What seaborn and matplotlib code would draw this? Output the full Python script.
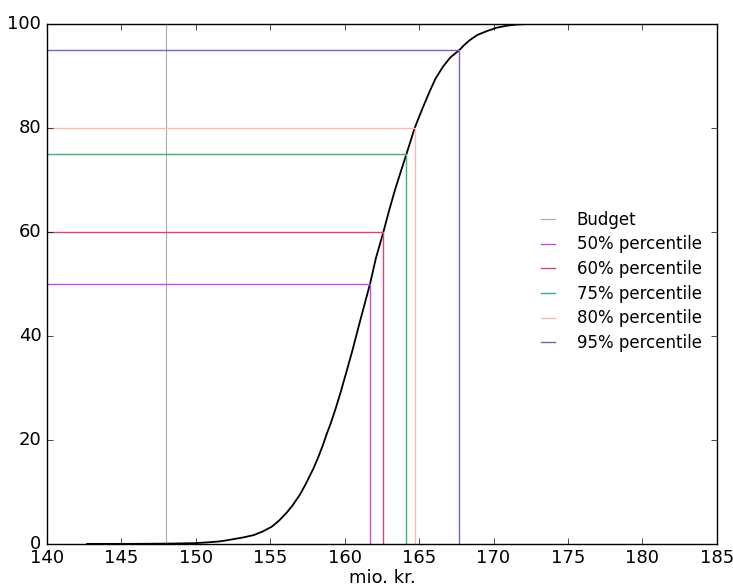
import matplotlib
matplotlib.use("Agg")
import matplotlib.pyplot as plt
import seaborn as sns

# cumulative curve (mio. kr. vs %)
cdf_x = [142.7, 146.0, 148.0, 150.0, 150.8, 151.5, 152.0, 152.5, 153.2, 153.9,
         154.5, 155.1, 155.6, 156.1, 156.5, 157.0, 157.4, 157.9, 158.2, 158.55,
         158.8, 159.1, 159.4, 159.7, 160.0, 160.5, 161.0, 161.7, 162.1, 162.6,
         163.0, 163.4, 163.8, 164.15, 164.7, 165.2, 165.7, 166.1, 166.6, 167.1,
         167.7, 168.0, 168.4, 168.9, 169.5, 170.2, 170.9, 171.5, 172.2]
cdf_y = [0.0, 0.01, 0.05, 0.15, 0.3, 0.45, 0.65, 0.9, 1.25, 1.7,
         2.4, 3.3, 4.5, 6.0, 7.4, 9.5, 11.6, 14.5, 16.5, 19.1,
         21.2, 23.5, 26.1, 28.9, 31.9, 37.0, 42.5, 50.0, 55.0, 60.0,
         64.3, 68.3, 71.9, 75.0, 80.0, 83.6, 87.0, 89.5, 91.8, 93.6,
         95.0, 95.9, 96.9, 97.9, 98.6, 99.3, 99.7, 99.9, 100.0]

budget = 148.0
pct_levels = [50, 60, 75, 80, 95]
pct_values = [161.7, 162.6, 164.15, 164.7, 167.7]
pct_labels = ["50% percentile", "60% percentile", "75% percentile",
              "80% percentile", "95% percentile"]
pct_colors = ["#c04bf0", "#e04474", "#3cb371", "#ffb8b0", "#8060c0"]

plt.style.use("classic")
plt.rcParams["font.family"] = ["DejaVu Sans"]
plt.rcParams["font.size"] = 13

fig = plt.figure(figsize=(7.33, 5.88), dpi=100, facecolor="white")
ax = fig.add_axes([0.064, 0.075, 0.914, 0.884])
ax.set_facecolor("white")

ax.axvline(budget, color="#aaaaaa", lw=0.8, label="Budget")
sns.lineplot(x=cdf_x, y=cdf_y, color="black", lw=1.3, ax=ax)

for lvl, val, lab, col in zip(pct_levels, pct_values, pct_labels, pct_colors):
    ax.plot([140, val, val], [lvl, lvl, 0], color=col, lw=1.0, label=lab)

ax.set_xlim(140, 185)
ax.set_ylim(0, 100)
ax.set_xlabel("mio. kr.", fontsize=13, labelpad=1)
ax.tick_params(labelsize=13)

ax.legend(loc="center right", bbox_to_anchor=(1.0, 0.505), frameon=False,
          fontsize=12, handlelength=1.45, handletextpad=1.0, labelspacing=0.4)

plt.savefig("out.png", dpi=100, facecolor="white")
